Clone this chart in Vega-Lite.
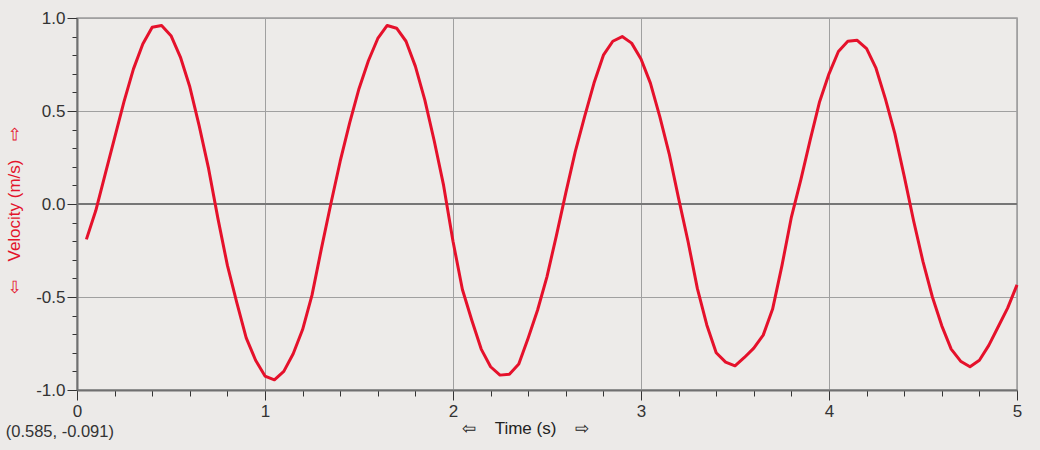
{
  "$schema": "https://vega.github.io/schema/vega-lite/v6.json",
  "width": 940,
  "height": 372,
  "autosize": {"type": "none"},
  "padding": {"left": 77, "top": 18, "right": 23, "bottom": 60},
  "background": "#ECEAE8",
  "title": {
    "text": "(0.585, -0.091)",
    "orient": "bottom",
    "anchor": "start",
    "frame": "bounds",
    "offset": -12,
    "dx": 0,
    "font": "Liberation Sans",
    "fontSize": 16.5,
    "fontWeight": "normal",
    "color": "#333333"
  },
  "config": {
    "view": {"stroke": "#9a9a9a", "strokeWidth": 1.5, "fill": "#EDEBE9"},
    "axis": {
      "labelFont": "Liberation Sans",
      "labelFontSize": 17,
      "labelColor": "#333333",
      "labelOverlap": false,
      "titleFont": "Liberation Sans",
      "titleFontSize": 17,
      "titleFontWeight": "normal",
      "domainColor": "#707070",
      "domainWidth": 2,
      "tickColor": "#333333",
      "gridColor": "#a0a0a0",
      "gridWidth": 1
    }
  },
  "data": {
    "values": [
      {"t": 0.05, "v": -0.19}, {"t": 0.10, "v": -0.035}, {"t": 0.15, "v": 0.16},
      {"t": 0.20, "v": 0.355}, {"t": 0.25, "v": 0.55}, {"t": 0.30, "v": 0.725},
      {"t": 0.35, "v": 0.86}, {"t": 0.40, "v": 0.95}, {"t": 0.45, "v": 0.96},
      {"t": 0.50, "v": 0.905}, {"t": 0.55, "v": 0.79}, {"t": 0.60, "v": 0.63},
      {"t": 0.65, "v": 0.42}, {"t": 0.70, "v": 0.19}, {"t": 0.75, "v": -0.08},
      {"t": 0.80, "v": -0.33}, {"t": 0.85, "v": -0.53}, {"t": 0.90, "v": -0.72},
      {"t": 0.95, "v": -0.84}, {"t": 1.00, "v": -0.925}, {"t": 1.05, "v": -0.945},
      {"t": 1.10, "v": -0.90}, {"t": 1.15, "v": -0.805}, {"t": 1.20, "v": -0.675},
      {"t": 1.25, "v": -0.49}, {"t": 1.30, "v": -0.24}, {"t": 1.35, "v": 0.0},
      {"t": 1.40, "v": 0.23}, {"t": 1.45, "v": 0.435}, {"t": 1.50, "v": 0.62},
      {"t": 1.55, "v": 0.77}, {"t": 1.60, "v": 0.89}, {"t": 1.65, "v": 0.96},
      {"t": 1.70, "v": 0.945}, {"t": 1.75, "v": 0.875}, {"t": 1.80, "v": 0.74},
      {"t": 1.85, "v": 0.56}, {"t": 1.90, "v": 0.34}, {"t": 1.95, "v": 0.10},
      {"t": 2.00, "v": -0.20}, {"t": 2.05, "v": -0.46}, {"t": 2.10, "v": -0.625},
      {"t": 2.15, "v": -0.78}, {"t": 2.20, "v": -0.875}, {"t": 2.25, "v": -0.92},
      {"t": 2.30, "v": -0.915}, {"t": 2.35, "v": -0.86}, {"t": 2.40, "v": -0.72},
      {"t": 2.45, "v": -0.57}, {"t": 2.50, "v": -0.39}, {"t": 2.55, "v": -0.17},
      {"t": 2.60, "v": 0.06}, {"t": 2.65, "v": 0.28}, {"t": 2.70, "v": 0.47},
      {"t": 2.75, "v": 0.65}, {"t": 2.80, "v": 0.80}, {"t": 2.85, "v": 0.875},
      {"t": 2.90, "v": 0.90}, {"t": 2.95, "v": 0.865}, {"t": 3.00, "v": 0.78},
      {"t": 3.05, "v": 0.65}, {"t": 3.10, "v": 0.47}, {"t": 3.15, "v": 0.27},
      {"t": 3.20, "v": 0.03}, {"t": 3.25, "v": -0.20}, {"t": 3.30, "v": -0.455},
      {"t": 3.35, "v": -0.65}, {"t": 3.40, "v": -0.80}, {"t": 3.45, "v": -0.85},
      {"t": 3.50, "v": -0.87}, {"t": 3.55, "v": -0.825}, {"t": 3.60, "v": -0.775},
      {"t": 3.65, "v": -0.705}, {"t": 3.70, "v": -0.565}, {"t": 3.75, "v": -0.33},
      {"t": 3.80, "v": -0.07}, {"t": 3.85, "v": 0.13}, {"t": 3.90, "v": 0.345},
      {"t": 3.95, "v": 0.55}, {"t": 4.00, "v": 0.70}, {"t": 4.05, "v": 0.82},
      {"t": 4.10, "v": 0.875}, {"t": 4.15, "v": 0.88}, {"t": 4.20, "v": 0.835},
      {"t": 4.25, "v": 0.73}, {"t": 4.30, "v": 0.565}, {"t": 4.35, "v": 0.38},
      {"t": 4.40, "v": 0.15}, {"t": 4.45, "v": -0.09}, {"t": 4.50, "v": -0.31},
      {"t": 4.55, "v": -0.50}, {"t": 4.60, "v": -0.655}, {"t": 4.65, "v": -0.78},
      {"t": 4.70, "v": -0.845}, {"t": 4.75, "v": -0.875}, {"t": 4.80, "v": -0.84},
      {"t": 4.85, "v": -0.76}, {"t": 4.90, "v": -0.66}, {"t": 4.95, "v": -0.56},
      {"t": 5.00, "v": -0.435}
    ]
  },
  "encoding": {
    "y": {
      "field": "v",
      "type": "quantitative",
      "scale": {"domain": [-1, 1], "nice": false},
      "axis": {
        "title": "⇦\u00a0\u00a0\u00a0\u00a0Velocity (m/s)\u00a0\u00a0\u00a0\u00a0⇨",
        "titleColor": "#E3132B",
        "titleY": 192,
        "values": [-1, -0.9, -0.8, -0.7, -0.6, -0.5, -0.4, -0.3, -0.2, -0.1, 0, 0.1, 0.2, 0.3, 0.4, 0.5, 0.6, 0.7, 0.8, 0.9, 1],
        "labelExpr": "indexof([-1, -0.5, 0, 0.5, 1], datum.value) >= 0 ? replace(format(datum.value, '.1f'), '\u2212', '-') : ''",
        "tickSize": {"condition": {"test": "indexof([-1, -0.5, 0, 0.5, 1], datum.value) >= 0", "value": 10}, "value": 5},
        "gridOpacity": {"condition": {"test": "indexof([-1, -0.5, 0, 0.5, 1], datum.value) >= 0", "value": 1}, "value": 0},
        "labelPadding": 2,
        "titlePadding": 12,
        "labelFlush": false
      }
    }
  },
  "layer": [
    {
      "mark": {"type": "rule", "color": "#767676", "strokeWidth": 2},
      "encoding": {"y": {"datum": 0, "type": "quantitative"}}
    },
    {
      "mark": {"type": "line", "color": "#E5112B", "strokeWidth": 3, "strokeJoin": "round"},
      "encoding": {
        "x": {
          "field": "t",
          "type": "quantitative",
          "scale": {"domain": [0, 5], "nice": false},
          "axis": {
            "title": "⇦\u00a0\u00a0\u00a0\u00a0Time (s)\u00a0\u00a0\u00a0\u00a0⇨",
            "titleColor": "#222222",
            "titleX": 448,
            "values": [0, 0.2, 0.4, 0.6, 0.8, 1, 1.2, 1.4, 1.6, 1.8, 2, 2.2, 2.4, 2.6, 2.8, 3, 3.2, 3.4, 3.6, 3.8, 4, 4.2, 4.4, 4.6, 4.8, 5],
            "labelExpr": "indexof([0, 1, 2, 3, 4, 5], datum.value) >= 0 ? format(datum.value, 'd') : ''",
            "tickSize": {"condition": {"test": "indexof([0, 1, 2, 3, 4, 5], datum.value) >= 0", "value": 10}, "value": 6},
            "gridOpacity": {"condition": {"test": "indexof([0, 1, 2, 3, 4, 5], datum.value) >= 0", "value": 1}, "value": 0},
            "labelPadding": 3,
            "titlePadding": 1,
            "labelFlush": false
          }
        }
      }
    }
  ]
}
